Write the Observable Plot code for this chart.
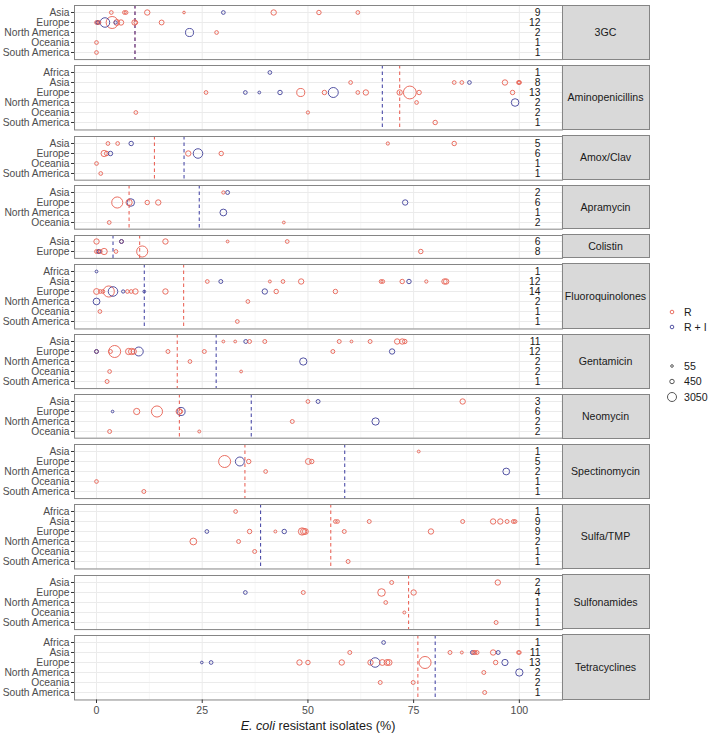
<!DOCTYPE html>
<html>
<head>
<meta charset="utf-8">
<script src="https://cdn.jsdelivr.net/npm/d3@7"></script>
<script src="https://cdn.jsdelivr.net/npm/@observablehq/plot@0.6"></script>
<style>
  html, body { margin: 0; padding: 0; background: #fff; }
  #chart { position: relative; width: 709px; height: 737px; font-family: "Liberation Sans", Arial, Helvetica, sans-serif; }
  .panel { position: absolute; left: 0; }
  .strip { position: absolute; background: #d9d9d9; border: 1px solid #858585; box-sizing: border-box;
           display: flex; align-items: center; justify-content: center; font-size: 10.6px; color: #1a1a1a; }
  .xtitle { position: absolute; left: 74px; width: 488px; text-align: center; font-size: 12.6px; color: #1a1a1a; }
  .legend { position: absolute; }
</style>
</head>
<body>
<div id="chart"></div>
<script>
// ---------- DATA ----------
const regionOrder = ["Africa", "Asia", "Europe", "North America", "Oceania", "South America"];
const types = ["R", "R + I"];
const antibiotics = ["3GC", "Aminopenicillins", "Amox/Clav", "Apramycin", "Colistin", "Fluoroquinolones",
  "Gentamicin", "Neomycin", "Spectinomycin", "Sulfa/TMP", "Sulfonamides", "Tetracyclines"];
const xTicks = [0, 25, 50, 75, 100];
const xMinor = [12.5, 37.5, 62.5, 87.5];
const sizeBreaks = [55, 450, 3050];

// [region, type, % resistant, number of isolates]
const gc3 = [
  ["Asia","R",3.5,250],["Asia","R",6.6,250],["Asia","R",7.0,250],["Asia","R",12.0,800],["Asia","R",20.7,60],
  ["Asia","R + I",30.0,250],["Asia","R",41.9,800],["Asia","R",52.6,450],["Asia","R",61.8,250],
  ["Europe","R",0,250],["Europe","R",0.3,250],["Europe","R + I",0.3,250],["Europe","R",0.6,250],
  ["Europe","R + I",2.0,3500],["Europe","R",3.7,6000],["Europe","R + I",4.5,150],["Europe","R",4.8,1000],
  ["Europe","R",5.8,800],["Europe","R",9.0,800],["Europe","R",9.3,250],["Europe","R",15.4,600],
  ["North America","R + I",22.0,2300],["North America","R",28.4,250],
  ["Oceania","R",0,250],
  ["South America","R",0,250]
];
const aminopenicillins = [
  ["Africa","R + I",41.0,250],
  ["Asia","R",60.1,250],["Asia","R",84.6,250],["Asia","R",86.4,250],["Asia","R + I",88.2,250],
  ["Asia","R",96.6,800],["Asia","R",100,250],["Asia","R",100,250],["Asia","R",99.8,250],
  ["Europe","R",25.9,250],["Europe","R + I",35.2,250],["Europe","R + I",38.5,80],["Europe","R + I",43.4,450],
  ["Europe","R",48.3,2300],["Europe","R",53.9,450],["Europe","R + I",56.0,3900],["Europe","R",61.8,250],
  ["Europe","R",63.7,800],["Europe","R",71.7,800],["Europe","R",74.1,7000],["Europe","R",76.3,450],["Europe","R",98.4,450],
  ["North America","R",75.7,250],["North America","R + I",99.0,2000],
  ["Oceania","R",9.3,250],["Oceania","R",50.0,150],
  ["South America","R",80.1,450]
];
const amoxClav = [
  ["Asia","R",2.7,250],["Asia","R",5.0,250],["Asia","R + I",8.2,450],["Asia","R",68.9,150],["Asia","R",84.6,450],
  ["Europe","R",1.8,1200],["Europe","R",2.4,450],["Europe","R + I",3.3,450],["Europe","R",21.7,800],
  ["Europe","R + I",24.0,3500],["Europe","R",29.5,450],
  ["Oceania","R",0,250],
  ["South America","R",1.0,250]
];
const apramycin = [
  ["Asia","R",30.0,150],["Asia","R + I",31.0,300],
  ["Europe","R",4.9,5000],["Europe","R",7.7,1200],["Europe","R + I",8.1,2000],["Europe","R",12.0,450],
  ["Europe","R",14.6,800],["Europe","R + I",73.0,800],
  ["North America","R + I",30.0,1500],
  ["Oceania","R",3.0,250],["Oceania","R",44.3,80]
];
const colistin = [
  ["Asia","R",0,800],["Asia","R",5.9,300],["Asia","R + I",5.9,300],["Asia","R",16.3,800],["Asia","R",31.0,80],["Asia","R",45.1,250],
  ["Europe","R",0,300],["Europe","R",0.4,300],["Europe","R + I",0.6,300],["Europe","R",0.9,250],
  ["Europe","R",1.8,1200],["Europe","R",4.6,250],["Europe","R",10.8,5000],["Europe","R",76.7,450]
];
const fluoroquinolones = [
  ["Africa","R + I",0,80],
  ["Asia","R",26.2,250],["Asia","R + I",29.4,300],["Asia","R",41.0,100],["Asia","R",44.1,250],["Asia","R",48.4,800],
  ["Asia","R",67.3,250],["Asia","R",67.7,250],["Asia","R",72.3,450],["Asia","R + I",73.9,450],["Asia","R",78.0,150],
  ["Asia","R",82.3,800],["Asia","R",82.7,800],
  ["Europe","R",0,1000],["Europe","R",0.9,250],["Europe","R",1.5,250],["Europe","R",2.9,5000],["Europe","R + I",3.9,3500],
  ["Europe","R + I",6.3,150],["Europe","R",7.3,250],["Europe","R",8.2,250],["Europe","R",9.2,800],["Europe","R + I",11.3,80],
  ["Europe","R",16.3,800],["Europe","R + I",39.8,800],["Europe","R",42.5,450],["Europe","R",56.5,450],
  ["North America","R + I",0,1500],["North America","R",35.8,250],
  ["Oceania","R",0.8,250],
  ["South America","R",33.3,250]
];
const gentamicin = [
  ["Asia","R",30.0,80],["Asia","R",32.8,80],["Asia","R + I",35.3,300],["Asia","R",36.2,300],["Asia","R",39.8,300],
  ["Asia","R",57.4,300],["Asia","R",60.3,80],["Asia","R",64.7,300],["Asia","R",71.1,800],["Asia","R",72.3,800],["Asia","R",72.9,450],
  ["Europe","R",0,300],["Europe","R + I",0,300],["Europe","R",3.3,300],["Europe","R",4.3,6000],["Europe","R",7.6,1200],
  ["Europe","R",8.3,1200],["Europe","R",8.8,800],["Europe","R + I",10.0,3000],["Europe","R",16.9,300],["Europe","R",25.5,300],
  ["Europe","R",55.9,300],["Europe","R + I",69.9,800],
  ["North America","R",22.1,250],["North America","R + I",48.9,1800],
  ["Oceania","R",3.1,250],["Oceania","R",34.2,80],
  ["South America","R",2.5,300]
];
const neomycin = [
  ["Asia","R",50.0,250],["Asia","R + I",52.4,300],["Asia","R",86.6,800],
  ["Europe","R + I",3.8,60],["Europe","R",9.5,1200],["Europe","R",14.3,5000],["Europe","R",19.5,1000],
  ["Europe","R",19.9,300],["Europe","R + I",20.0,2300],
  ["North America","R",46.3,300],["North America","R + I",66.0,1800],
  ["Oceania","R",3.1,300],["Oceania","R",24.3,100]
];
const spectinomycin = [
  ["Asia","R",76.2,80],
  ["Europe","R",30.3,6000],["Europe","R + I",33.9,3000],["Europe","R",36.0,450],["Europe","R",50.1,1000],["Europe","R",50.9,450],
  ["North America","R",40.0,250],["North America","R + I",96.9,1500],
  ["Oceania","R",0,250],
  ["South America","R",11.2,300]
];
const sulfaTmp = [
  ["Africa","R",32.9,250],
  ["Asia","R",56.5,250],["Asia","R",57.0,250],["Asia","R",64.5,300],["Asia","R",86.6,300],["Asia","R",93.8,800],
  ["Asia","R",95.5,800],["Asia","R",97.1,300],["Asia","R",98.6,300],["Asia","R",99.0,250],
  ["Europe","R + I",26.1,250],["Europe","R",36.2,450],["Europe","R",42.3,100],["Europe","R + I",44.4,450],
  ["Europe","R",48.6,1800],["Europe","R",49.0,1200],["Europe","R",49.4,1000],["Europe","R",58.6,300],["Europe","R",79.1,800],
  ["North America","R",22.9,1500],["North America","R",33.6,300],
  ["Oceania","R",37.4,300],
  ["South America","R",59.5,300]
];
const sulfonamides = [
  ["Asia","R",69.8,300],["Asia","R",94.9,800],
  ["Europe","R + I",35.2,250],["Europe","R",48.9,300],["Europe","R",67.4,2000],["Europe","R",75.0,800],
  ["North America","R",68.4,250],
  ["Oceania","R",72.8,100],
  ["South America","R",94.5,300]
];
const tetracyclines = [
  ["Africa","R + I",67.9,250],
  ["Asia","R",59.9,300],["Asia","R",83.6,300],["Asia","R",86.4,100],["Asia","R + I",88.9,300],["Asia","R",89.2,300],
  ["Asia","R",89.5,300],["Asia","R",90.0,300],["Asia","R",93.8,800],["Asia","R + I",95.0,300],["Asia","R",100,250],["Asia","R",99.8,250],
  ["Europe","R + I",24.9,60],["Europe","R + I",27.1,250],["Europe","R",48.0,800],["Europe","R",50.0,450],["Europe","R",58.0,800],
  ["Europe","R",64.8,800],["Europe","R + I",65.9,3500],["Europe","R",67.6,1000],["Europe","R",68.7,1000],["Europe","R",69.2,1000],
  ["Europe","R",77.7,6000],["Europe","R",94.4,450],["Europe","R + I",96.6,1200],
  ["North America","R",91.6,300],["North America","R + I",100,1800],
  ["Oceania","R",67.1,300],["Oceania","R",74.9,300],
  ["South America","R",91.8,300]
];
const pointSets = [gc3, aminopenicillins, amoxClav, apramycin, colistin, fluoroquinolones,
  gentamicin, neomycin, spectinomycin, sulfaTmp, sulfonamides, tetracyclines];

// median lines: [antibiotic, type, %]
const medians = [
  ["3GC","R",9.1],["3GC","R + I",9.1],
  ["Aminopenicillins","R",71.7],["Aminopenicillins","R + I",67.6],
  ["Amox/Clav","R",13.7],["Amox/Clav","R + I",20.7],
  ["Apramycin","R",7.7],["Apramycin","R + I",24.3],
  ["Colistin","R",10.2],["Colistin","R + I",3.9],
  ["Fluoroquinolones","R",20.6],["Fluoroquinolones","R + I",11.3],
  ["Gentamicin","R",19.1],["Gentamicin","R + I",28.3],
  ["Neomycin","R",19.6],["Neomycin","R + I",36.6],
  ["Spectinomycin","R",35.1],["Spectinomycin","R + I",58.7],
  ["Sulfa/TMP","R",55.4],["Sulfa/TMP","R + I",38.8],
  ["Sulfonamides","R",73.8],
  ["Tetracyclines","R",76.0],["Tetracyclines","R + I",80.1]
];

// ---------- LAYOUT / STYLE ----------
const RED = "#E8675A", BLUE = "#4A4A9E";
const LINE_RED = "#E9584B", LINE_BLUE = "#3B3BA0";
const ROW = 10.4, GAP = 6, TOP = 5, LEFT = 74, RIGHT = 562, STRIP_W = 88;
const FONT = "'Liberation Sans', Arial, Helvetica, sans-serif";
const FS = 10.3;
const rScale = {type: "sqrt", domain: [0, 7200], range: [0.8, 6.5]};
const colorScale = {domain: types, range: [RED, BLUE]};

const chart = document.getElementById("chart");
let y0 = TOP;
antibiotics.forEach((ab, i) => {
  const pts = pointSets[i].map(([region, type, pct, n]) => ({region, type, pct, n}));
  const regs = regionOrder.filter(r => pts.some(p => p.region === r));
  const counts = regs.map(r => ({region: r, count: pts.filter(p => p.region === r).length}));
  const meds = medians.filter(m => m[0] === ab).map(([, type, value]) => ({type, value}));
  const frameH = (regs.length + 0.2) * ROW;
  const last = i === antibiotics.length - 1;
  const mb = last ? 22 : 1;
  const plot = Plot.plot({
    width: RIGHT + 1,
    height: frameH + 1 + mb,
    marginLeft: LEFT, marginRight: 1, marginTop: 1, marginBottom: mb,
    style: {fontFamily: FONT, fontSize: FS + "px", color: "#4d4d4d", background: "transparent", overflow: "visible"},
    x: {domain: [-5.2, 110.2], axis: null},
    y: {type: "point", domain: regs, padding: 0.6, axis: null},
    r: rScale,
    color: colorScale,
    marks: [
      Plot.ruleX(xMinor, {stroke: "#f2f2f2", strokeWidth: 0.6}),
      Plot.ruleX(xTicks, {stroke: "#ebebeb", strokeWidth: 1}),
      Plot.ruleY(regs, {stroke: "#ebebeb", strokeWidth: 1}),
      Plot.ruleX(meds, {x: "value", stroke: d => d.type === "R" ? LINE_RED : LINE_BLUE,
        strokeDasharray: "3.5,3", strokeWidth: 1.1, strokeOpacity: 0.9}),
      Plot.dot(pts, {x: "pct", y: "region", r: "n", stroke: "type", strokeWidth: 0.95}),
      Plot.text(counts, {y: "region", text: d => String(d.count), frameAnchor: "right", dx: -22,
        fill: "#1a1a1a", fontSize: FS}),
      Plot.axisY({tickSize: 3, tickPadding: 2, fontSize: FS, label: null, stroke: "#333"}),
      Plot.frame({stroke: "#858585", strokeWidth: 1}),
      last ? Plot.axisX({ticks: xTicks, tickSize: 3.5, tickPadding: 2.5, fontSize: 10.6, label: null, stroke: "#333"}) : null
    ]
  });
  plot.classList.add("panel");
  plot.style.top = (y0 - 1) + "px";
  chart.appendChild(plot);

  const strip = document.createElement("div");
  strip.className = "strip";
  strip.style.left = (RIGHT - 0.5) + "px";
  strip.style.top = (y0 - 0.5) + "px";
  strip.style.width = STRIP_W + "px";
  strip.style.height = (frameH + 1) + "px";
  strip.textContent = ab;
  chart.appendChild(strip);

  y0 += frameH + GAP;
});

// x-axis title
const xt = document.createElement("div");
xt.className = "xtitle";
xt.style.top = "719px";
xt.innerHTML = "<i>E. coli</i> resistant isolates (%)";
chart.appendChild(xt);

// legend
const rFn = d3.scaleSqrt().domain(rScale.domain).range(rScale.range);
const leg = d3.create("svg").attr("class", "legend").attr("width", 49).attr("height", 110)
  .style("left", "660px").style("top", "300px").style("font-family", FONT).style("font-size", "10.6px");
types.forEach((t, k) => {
  const g = leg.append("g").attr("transform", `translate(12,${12 + k * 15})`);
  g.append("circle").attr("r", 1.8).attr("fill", "none").attr("stroke", k === 0 ? RED : BLUE).attr("stroke-width", 0.95);
  g.append("text").attr("x", 12).attr("dy", "0.35em").attr("fill", "#1a1a1a").text(t);
});
sizeBreaks.forEach((s, k) => {
  const g = leg.append("g").attr("transform", `translate(12,${66 + k * 15.5})`);
  g.append("circle").attr("r", rFn(s)).attr("fill", "none").attr("stroke", "#4d4d4d").attr("stroke-width", 0.95);
  g.append("text").attr("x", 12).attr("dy", "0.35em").attr("fill", "#1a1a1a").text(s);
});
chart.appendChild(leg.node());
</script>
</body>
</html>
